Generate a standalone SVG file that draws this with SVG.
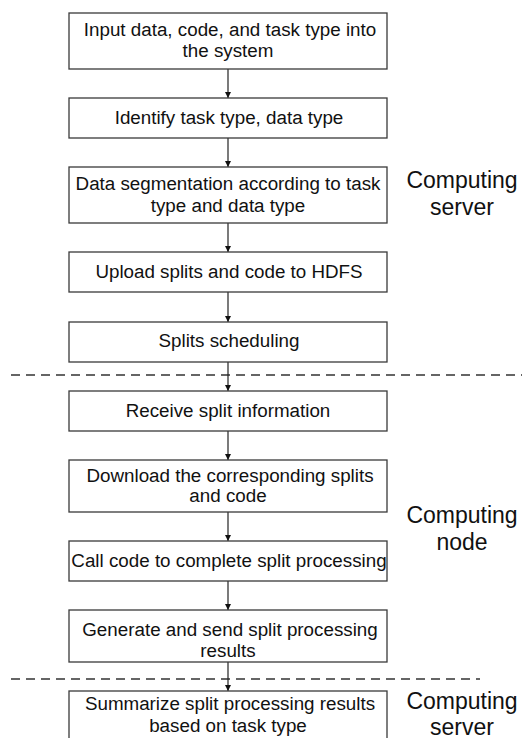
<svg xmlns="http://www.w3.org/2000/svg" width="522" height="738" viewBox="0 0 522 738">
<defs>
<style>
.box{fill:#fff;stroke:#3a3a3a;stroke-width:1.3}
.t{font-family:"Liberation Sans",Arial,sans-serif;font-size:18.8px;fill:#111;text-anchor:middle}
.lab{font-family:"Liberation Sans",Arial,sans-serif;font-size:23px;fill:#111;text-anchor:middle}
.c{stroke:#222;stroke-width:1.2;fill:none}
.d{stroke:#333;stroke-width:1.3;stroke-dasharray:9 6;fill:none}
</style>
<marker id="ah" viewBox="0 0 8 8" refX="8" refY="4" markerWidth="6" markerHeight="6" orient="auto" markerUnits="userSpaceOnUse">
<path d="M0,0 L8,4 L0,8 z" fill="#111"/>
</marker>
</defs>
<rect width="522" height="738" fill="#fff"/>
<g id="separators">
<line class="d" x1="11" y1="375" x2="522" y2="375"/>
<line class="d" x1="11" y1="679" x2="480" y2="679"/>
</g>
<g id="connectors">
<line class="c" x1="228" y1="69" x2="228" y2="98" marker-end="url(#ah)"/>
<line class="c" x1="228" y1="138" x2="228" y2="167" marker-end="url(#ah)"/>
<line class="c" x1="228" y1="223" x2="228" y2="252" marker-end="url(#ah)"/>
<line class="c" x1="228" y1="292" x2="228" y2="322" marker-end="url(#ah)"/>
<line class="c" x1="228" y1="362" x2="228" y2="391" marker-end="url(#ah)"/>
<line class="c" x1="228" y1="431" x2="228" y2="460" marker-end="url(#ah)"/>
<line class="c" x1="228" y1="512" x2="228" y2="541" marker-end="url(#ah)"/>
<line class="c" x1="228" y1="581" x2="228" y2="610" marker-end="url(#ah)"/>
<line class="c" x1="228" y1="662" x2="228" y2="691" marker-end="url(#ah)"/>
</g>
<g id="n1"><rect class="box" x="69" y="13" width="318" height="56"/><text class="t" x="230" y="36">Input data, code, and task type into</text><text class="t" x="228" y="57">the system</text></g>
<g id="n2"><rect class="box" x="69" y="98" width="318" height="40"/><text class="t" x="229" y="124">Identify task type, data type</text></g>
<g id="n3"><rect class="box" x="69" y="167" width="318" height="56"/><text class="t" x="228" y="190">Data segmentation according to task</text><text class="t" x="228" y="212">type and data type</text></g>
<g id="n4"><rect class="box" x="69" y="252" width="318" height="40"/><text class="t" x="229" y="278">Upload splits and code to HDFS</text></g>
<g id="n5"><rect class="box" x="69" y="322" width="318" height="40"/><text class="t" x="229" y="347">Splits scheduling</text></g>
<g id="n6"><rect class="box" x="69" y="391" width="318" height="40"/><text class="t" x="228" y="417">Receive split information</text></g>
<g id="n7"><rect class="box" x="69" y="460" width="318" height="52"/><text class="t" x="230" y="482">Download the corresponding splits</text><text class="t" x="228" y="502">and code</text></g>
<g id="n8"><rect class="box" x="69" y="541" width="318" height="40"/><text class="t" x="229" y="567">Call code to complete split processing</text></g>
<g id="n9"><rect class="box" x="69" y="610" width="318" height="52"/><text class="t" x="230" y="636">Generate and send split processing</text><text class="t" x="228" y="657">results</text></g>
<g id="n10"><rect class="box" x="69" y="691" width="318" height="60"/><text class="t" x="230" y="710">Summarize split processing results</text><text class="t" x="228" y="732">based on task type</text></g>
<g id="labels">
<text class="lab" x="462" y="188">Computing</text><text class="lab" x="462" y="215">server</text>
<text class="lab" x="462" y="523">Computing</text><text class="lab" x="462" y="550">node</text>
<text class="lab" x="462" y="709">Computing</text><text class="lab" x="462" y="735">server</text>
</g>
</svg>
